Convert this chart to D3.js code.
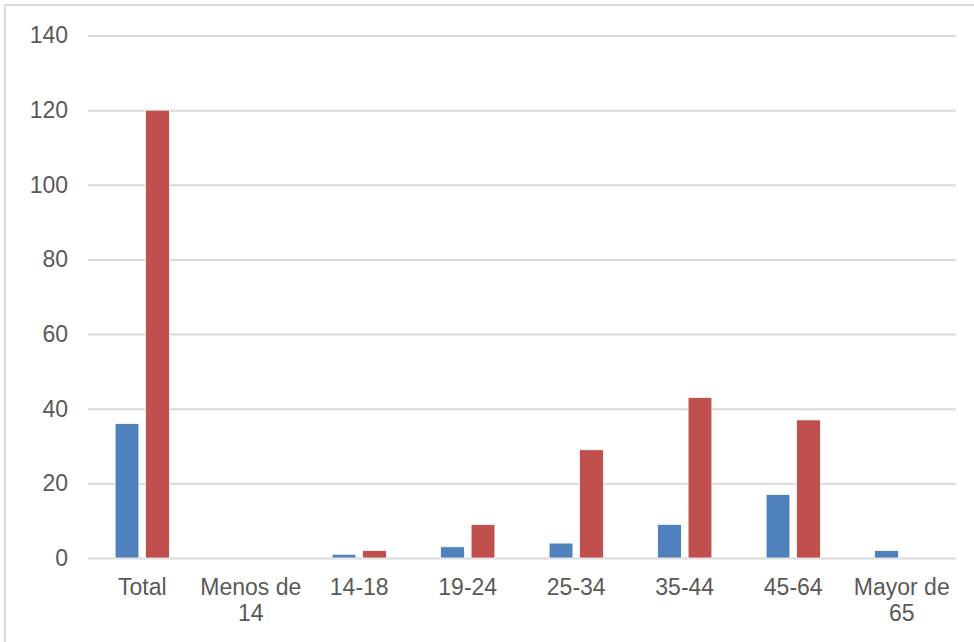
<!DOCTYPE html>
<html>
<head>
<meta charset="utf-8">
<script src="https://cdn.jsdelivr.net/npm/d3@7"></script>
<style>
  html, body { margin: 0; padding: 0; background: #fff; }
  svg { display: block; }
</style>
</head>
<body>
<svg id="chart" width="974" height="642"></svg>
<script>
const categories = ["Total", "Menos de 14", "14-18", "19-24", "25-34", "35-44", "45-64", "Mayor de 65"];
const categoryLines = [["Total"], ["Menos de", "14"], ["14-18"], ["19-24"], ["25-34"], ["35-44"], ["45-64"], ["Mayor de", "65"]];
const seriesNames = ["Serie 1", "Serie 2"];
const series1 = [36, 0, 1, 3, 4, 9, 17, 2];
const series2 = [120, 0, 2, 9, 29, 43, 37, 0];
const yTicks = [0, 20, 40, 60, 80, 100, 120, 140];
const colors = ["#4F81BD", "#C0504D"];

const svg = d3.select("#chart");
const W = 974, H = 642;
const plot = { left: 88, right: 956, top: 35.5, bottom: 558 };

// chart border
svg.append("rect")
  .attr("x", 5).attr("y", 5)
  .attr("width", W + 10).attr("height", H + 10)
  .attr("fill", "#fff")
  .attr("stroke", "#d9d9d9").attr("stroke-width", 2);

const x0 = d3.scaleBand().domain(categories).range([plot.left, plot.right]).paddingInner(0).paddingOuter(0);
const bw = x0.bandwidth();
const x1 = d3.scaleBand().domain(seriesNames).range([bw * 0.25, bw * 0.75]).paddingInner(0.22).paddingOuter(0);
const y = d3.scaleLinear().domain([0, 140]).range([plot.bottom, plot.top]);

// gridlines
const yAxis = d3.axisLeft(y).tickValues(yTicks).tickSize(-(plot.right - plot.left)).tickPadding(20);
const gy = svg.append("g").attr("transform", `translate(${plot.left},0)`).call(yAxis);
gy.select(".domain").remove();
gy.selectAll(".tick line").attr("stroke", "#d9d9d9").attr("stroke-width", 2);
gy.selectAll(".tick text")
  .attr("fill", "#595959")
  .style("font-family", "'Liberation Sans', Arial, sans-serif")
  .style("font-size", "23px");

// bars
const data = categories.map((c, i) => ({ cat: c, vals: [series1[i], series2[i]] }));
const groups = svg.append("g").selectAll("g").data(data).join("g")
  .attr("transform", d => `translate(${x0(d.cat)},0)`);
groups.selectAll("rect")
  .data(d => d.vals.map((v, j) => ({ key: seriesNames[j], v, j })).filter(e => e.v > 0))
  .join("rect")
  .attr("x", d => x1(d.key))
  .attr("width", x1.bandwidth())
  .attr("y", d => y(d.v))
  .attr("height", d => y(0) - y(d.v))
  .attr("fill", d => colors[d.j])
  .attr("stroke", "#fff")
  .attr("stroke-width", 0.75);

// category labels
const labels = svg.append("g").selectAll("text").data(categories).join("text")
  .attr("x", d => x0(d) + bw / 2)
  .attr("y", 595)
  .attr("text-anchor", "middle")
  .attr("fill", "#595959")
  .style("font-family", "'Liberation Sans', Arial, sans-serif")
  .style("font-size", "23px");
labels.each(function(d, i) {
  const t = d3.select(this);
  categoryLines[i].forEach((ln, k) => {
    t.append("tspan").attr("x", x0(d) + bw / 2).attr("dy", k === 0 ? 0 : 26).text(ln);
  });
});
</script>
</body>
</html>
